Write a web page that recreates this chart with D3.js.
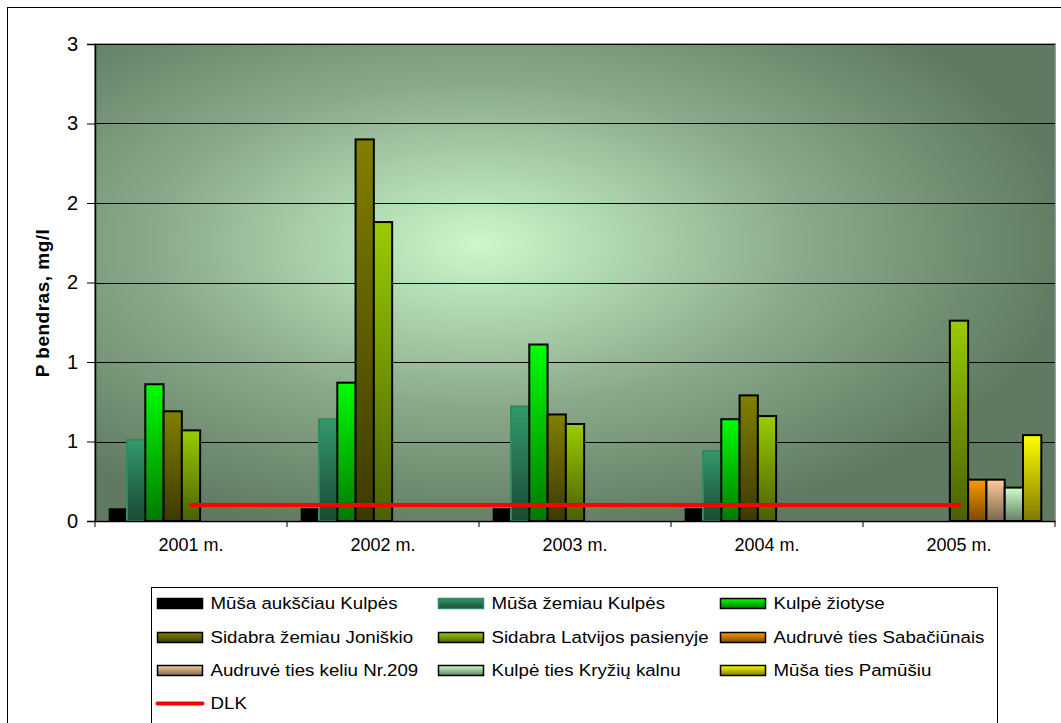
<!DOCTYPE html>
<html>
<head>
<meta charset="utf-8">
<script src="https://cdn.jsdelivr.net/npm/d3@7"></script>
<style>
  body { margin: 0; background: #fff; }
  svg { font-family: "Liberation Sans", Arial, sans-serif; }
</style>
</head>
<body>
<script>
// data
var years = ["2001 m.", "2002 m.", "2003 m.", "2004 m.", "2005 m."];
var seriesNames = [
    "Mūša aukščiau Kulpės", "Mūša žemiau Kulpės", "Kulpė žiotyse",
    "Sidabra žemiau Joniškio", "Sidabra Latvijos pasienyje", "Audruvė ties Sabačiūnais",
    "Audruvė ties keliu Nr.209", "Kulpė ties Kryžių kalnu", "Mūša ties Pamūšiu"
];
var musaAuksciau = [0.08, 0.08, 0.08, 0.08, null];
var musaZemiau   = [0.51, 0.64, 0.72, 0.44, null];
var kulpeZiotyse = [0.86, 0.87, 1.11, 0.64, null];
var sidabraJon   = [0.69, 2.40, 0.67, 0.79, null];
var sidabraLat   = [0.57, 1.88, 0.61, 0.66, 1.26];
var audruveSab   = [null, null, null, null, 0.26];
var audruve209   = [null, null, null, null, 0.26];
var kulpeKryziu  = [null, null, null, null, 0.21];
var musaPamusis  = [null, null, null, null, 0.54];
var dlk = [0.1, 0.1, 0.1, 0.1, 0.1];
var yTicks = [0, 0.5, 1, 1.5, 2, 2.5, 3];

var allSeries = [musaAuksciau, musaZemiau, kulpeZiotyse, sidabraJon, sidabraLat,
                 audruveSab, audruve209, kulpeKryziu, musaPamusis];

// gradient colours (top, bottom) and outline per series
var fills = [
    ["#000000", "#000000", "none"],
    ["#33996a", "#1a4a35", "#2f8a5e"],
    ["#00ff00", "#007a00", "#000"],
    ["#808000", "#3d3a00", "#000"],
    ["#99cc00", "#4a6000", "#000"],
    ["#ff9900", "#7a4a00", "#000"],
    ["#ffcc99", "#7a6650", "#000"],
    ["#ccffcc", "#648064", "#000"],
    ["#ffff00", "#807a00", "#000"]
];

var width = 1061, height = 723;
var margin = {left: 95, top: 44, right: 6, bottom: 202};
var plotW = width - margin.left - margin.right,
    plotH = height - margin.top - margin.bottom;

var svg = d3.select("body").append("svg")
    .attr("width", width)
    .attr("height", height);

var defs = svg.append("defs");

var bg = defs.append("radialGradient")
    .attr("id", "bg")
    .attr("cx", 0.4).attr("cy", 0.42).attr("r", 0.62)
    .attr("fx", 0.4).attr("fy", 0.42);
bg.append("stop").attr("offset", "0%").attr("stop-color", "#ccf8cc");
bg.append("stop").attr("offset", "55%").attr("stop-color", "#8aa98a");
bg.append("stop").attr("offset", "100%").attr("stop-color", "#5f7a60");

fills.forEach(function(f, i) {
    var g = defs.append("linearGradient")
        .attr("id", "g" + i)
        .attr("x1", 0).attr("y1", 0).attr("x2", 0).attr("y2", 1);
    g.append("stop").attr("offset", "0%").attr("stop-color", f[0]);
    g.append("stop").attr("offset", "100%").attr("stop-color", f[1]);
});

// outer chart border
svg.append("rect")
    .attr("x", 7.5).attr("y", 7.5)
    .attr("width", width + 20).attr("height", height + 20)
    .attr("fill", "none")
    .attr("stroke", "#000")
    .attr("stroke-width", 1);

var chart = svg.append("g")
    .attr("transform", "translate(" + margin.left + "," + margin.top + ")");

var x0 = d3.scaleBand()
    .domain(years)
    .range([0, plotW]);

// excel gap width 150%: each bar = band / 10.5, 0.75 bar of gap at each side
var x1 = d3.scaleBand()
    .domain(d3.range(seriesNames.length))
    .range([x0.bandwidth() * 0.75 / 10.5, x0.bandwidth() * 9.75 / 10.5]);

var y = d3.scaleLinear()
    .domain([0, 3])
    .range([plotH, 0]);

chart.append("rect")
    .attr("width", plotW)
    .attr("height", plotH)
    .attr("fill", "url(#bg)")
    .attr("stroke", "#808080")
    .attr("stroke-width", 1.5);

// gridlines
chart.append("g")
    .selectAll("line")
    .data(yTicks.slice(1))
    .enter().append("line")
    .attr("x1", 0).attr("x2", plotW)
    .attr("y1", function(d) { return Math.round(y(d)) + 0.5; })
    .attr("y2", function(d) { return Math.round(y(d)) + 0.5; })
    .attr("stroke", "#000")
    .attr("stroke-width", 1);

// bars
var groups = chart.selectAll(".year")
    .data(years)
    .enter().append("g")
    .attr("class", "year")
    .attr("transform", function(d) { return "translate(" + x0(d) + ",0)"; });

groups.selectAll("rect")
    .data(function(d, j) {
        return allSeries.map(function(s, i) { return {i: i, v: s[j]}; })
            .filter(function(e) { return e.v != null; });
    })
    .enter().append("rect")
    .attr("x", function(d) { return x1(d.i); })
    .attr("y", function(d) { return y(d.v); })
    .attr("width", x1.bandwidth())
    .attr("height", function(d) { return y(0) - y(d.v); })
    .attr("fill", function(d) { return "url(#g" + d.i + ")"; })
    .attr("stroke", function(d) { return fills[d.i][2]; })
    .attr("stroke-width", 2);

// DLK line
var line = d3.line()
    .x(function(d, i) { return x0(years[i]) + x0.bandwidth() / 2; })
    .y(function(d) { return y(d); });

chart.append("path")
    .datum(dlk)
    .attr("d", line)
    .attr("fill", "none")
    .attr("stroke", "#ff0000")
    .attr("stroke-width", 4)
    .attr("stroke-linecap", "round");

// axes (excel shows the half steps rounded to whole numbers)
var yAxis = chart.append("g")
    .call(d3.axisLeft(y).tickValues(yTicks).tickSize(8).tickPadding(9)
        .tickFormat(function(d) { return d3.format(".0f")(d % 1 ? d + 0.01 : d); }));
yAxis.select(".domain").attr("stroke", "#000").attr("stroke-width", 1.5);
yAxis.selectAll("text").attr("font-size", 20).attr("fill", "#000")
    .attr("font-family", "Liberation Sans, Arial, sans-serif");

var xAxis = chart.append("g")
    .attr("transform", "translate(0," + plotH + ")")
    .call(d3.axisBottom(x0).tickSize(0).tickPadding(17));
xAxis.select(".domain").attr("stroke", "#000").attr("stroke-width", 1.5);
xAxis.selectAll("text").attr("font-size", 18).attr("fill", "#000")
    .attr("font-family", "Liberation Sans, Arial, sans-serif");
xAxis.selectAll(".tk")
    .data(d3.range(years.length + 1))
    .enter().append("line")
    .attr("class", "tk")
    .attr("x1", function(d) { return d * x0.bandwidth(); })
    .attr("x2", function(d) { return d * x0.bandwidth(); })
    .attr("y1", 0).attr("y2", 6)
    .attr("stroke", "#000");

// y title
svg.append("text")
    .attr("transform", "translate(49,303) rotate(-90)")
    .attr("text-anchor", "middle")
    .attr("font-size", 19)
    .attr("letter-spacing", 0.5)
    .attr("font-weight", "bold")
    .text("P bendras, mg/l");

// legend
var legend = svg.append("g").attr("transform", "translate(151.5,587.5)");
legend.append("rect")
    .attr("width", 846).attr("height", 200)
    .attr("fill", "#fff")
    .attr("stroke", "#000")
    .attr("stroke-width", 1);

var colX = [5, 286, 568], rowY = [16, 50, 83];
var items = legend.selectAll(".item")
    .data(seriesNames)
    .enter().append("g")
    .attr("class", "item")
    .attr("transform", function(d, i) {
        return "translate(" + colX[i % 3] + "," + rowY[Math.floor(i / 3)] + ")";
    });
items.append("rect")
    .attr("x", 1).attr("y", -5)
    .attr("width", 45).attr("height", 10)
    .attr("fill", function(d, i) { return "url(#g" + i + ")"; })
    .attr("stroke", function(d, i) { return i === 1 ? "#2f8a5e" : "#000"; })
    .attr("stroke-width", 1.5);
items.append("text")
    .attr("transform", "translate(54,0) scale(1.1,1)")
    .attr("dy", "0.35em")
    .attr("font-size", 17)
    .text(function(d) { return d; });

var dl = legend.append("g").attr("transform", "translate(5,116)");
dl.append("line")
    .attr("x1", 1).attr("x2", 46)
    .attr("stroke", "#ff0000").attr("stroke-width", 4)
    .attr("stroke-linecap", "round");
dl.append("text")
    .attr("transform", "translate(54,0) scale(1.1,1)")
    .attr("dy", "0.35em")
    .attr("font-size", 17)
    .text("DLK");
</script>
</body>
</html>
